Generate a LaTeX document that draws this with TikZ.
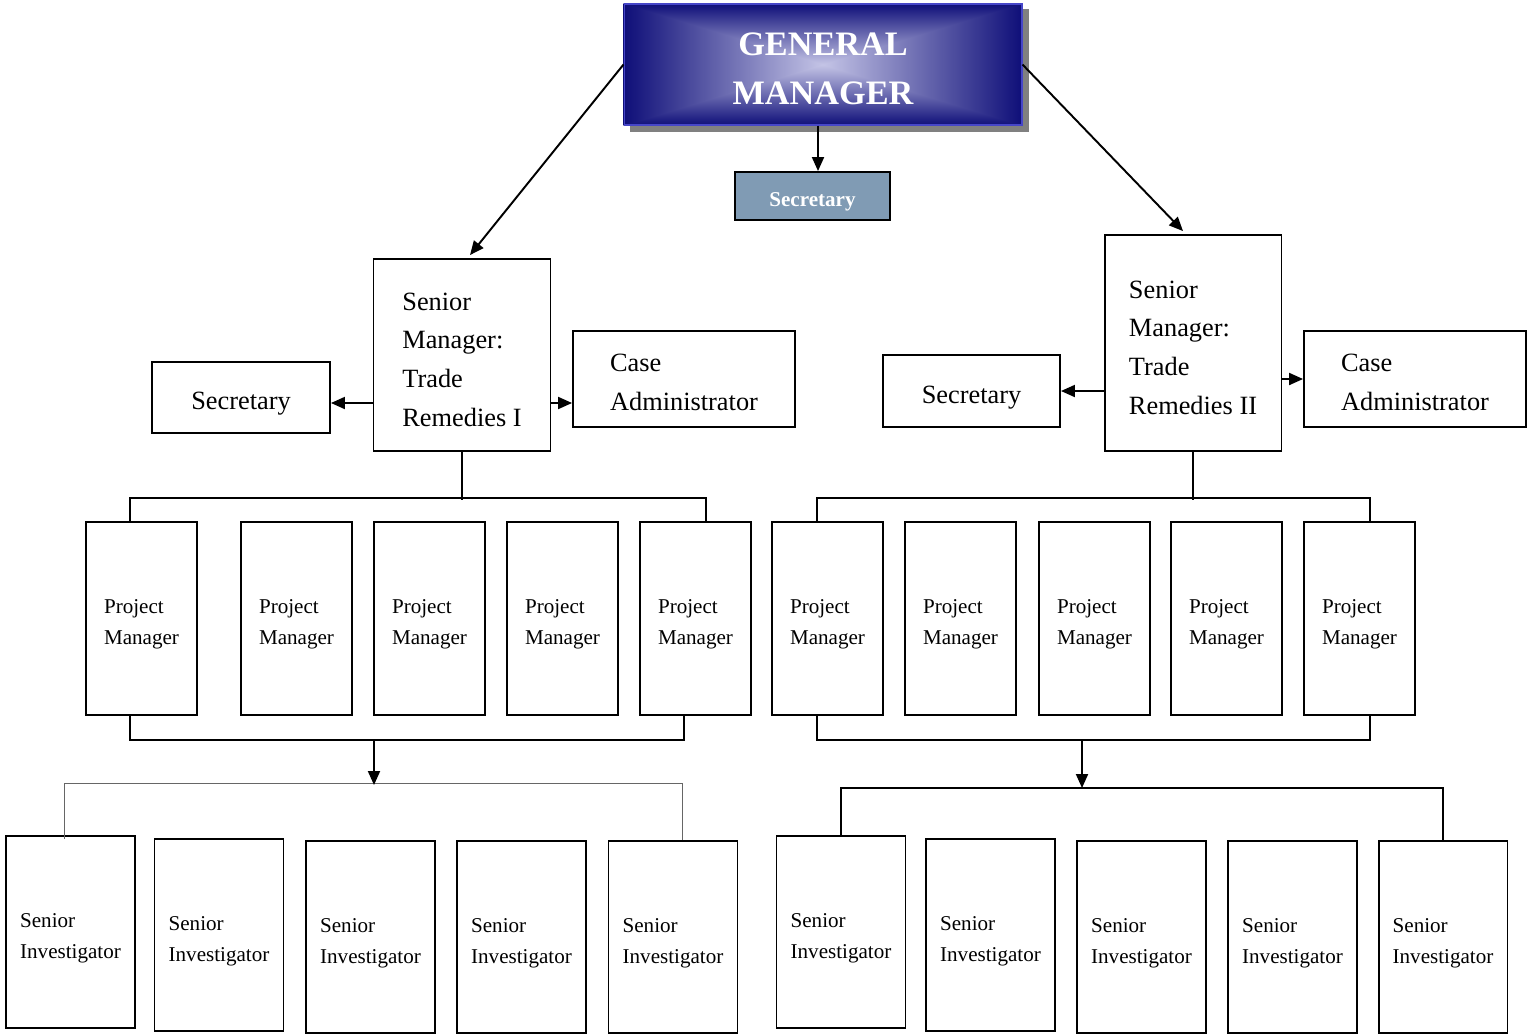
\documentclass[tikz,border=0pt]{standalone}
\usepackage{fontspec}
\setmainfont{Liberation Serif}
\usepackage{tikz}
\usetikzlibrary{positioning, arrows.meta, backgrounds}
\definecolor{gmdark}{RGB}{14,14,120}
\definecolor{gmlight}{RGB}{196,196,230}
\definecolor{gmedge}{RGB}{70,70,200}
\definecolor{secfill}{RGB}{128,155,180}

\begin{document}
\begin{tikzpicture}[x=0.02cm, y=-0.02cm,
  lift/.style={execute at begin node={\rule{0pt}{#1}}},
  box/.style={draw, line width=1.1pt, align=left, inner sep=0pt},
  gmbox/.style={draw=gmedge, line width=0.6pt, inner sep=0pt,
                minimum width=7.96cm, minimum height=2.42cm, text=white, align=center,
                font=\fontsize{19.5}{28}\selectfont\bfseries, text height=46pt, text depth=0pt},
  sectop/.style={box, fill=secfill, text=white, align=center, lift=15pt,
                 minimum width=3.1cm, minimum height=0.96cm, font=\fontsize{12}{14}\selectfont\bfseries},
  smbox/.style={box, minimum width=3.54cm, font=\fontsize{15}{22}\selectfont, text height=81pt, text depth=0pt},
  sidebox/.style={box, font=\fontsize{15}{22}\selectfont},
  pmbox/.style={box, minimum width=2.22cm, minimum height=3.86cm, font=\fontsize{12}{17.6}\selectfont, text height=30pt, text depth=0pt},
  sibox/.style={box, minimum width=2.58cm, minimum height=3.84cm, font=\fontsize{12}{17.6}\selectfont, text height=30pt, text depth=0pt},
  link/.style={line width=1.1pt},
  arrowlink/.style={link, -{Triangle[length=0.28cm, width=0.24cm]}},
  thinlink/.style={line width=0.5pt, black!60},
]
  \useasboundingbox (0,0) rectangle (1527,1035);

  % top of the chart
  \node[gmbox] (gm) at (823,64.5) {GENERAL\\MANAGER};
  \node[sectop] (secTop) at (812.5,196) {Secretary};
  \begin{scope}[on background layer]
    \fill[black!50] ([shift={(0.12cm,-0.12cm)}]gm.south west) rectangle ([shift={(0.12cm,-0.12cm)}]gm.north east);
    \shade[left color=gmdark, right color=gmdark, middle color=gmlight] (gm.south west) rectangle (gm.north east);
    \shade[top color=gmdark, bottom color=gmlight] (gm.north west) -- (gm.center) -- (gm.north east) -- cycle;
    \shade[top color=gmlight, bottom color=gmdark] (gm.south west) -- (gm.center) -- (gm.south east) -- cycle;
  \end{scope}

  % senior managers with their staff
  \node[smbox, minimum height=3.84cm] (sm1) at (462,355) {Senior\\Manager:\\Trade\\Remedies I};
  \node[sidebox, minimum width=3.56cm, minimum height=1.42cm, align=center, lift=17pt] (secL) at (241,397.5) {Secretary};
  \node[sidebox, minimum width=4.44cm, minimum height=1.92cm, text height=35.5pt, text depth=0pt] (caseL) at (684,379) {Case\\Administrator};

  \node[smbox, minimum height=4.32cm] (sm2) at (1193,343) {Senior\\Manager:\\Trade\\Remedies II};
  \node[sidebox, minimum width=3.54cm, minimum height=1.44cm, align=center, lift=17pt] (secR) at (971.5,391) {Secretary};
  \node[sidebox, minimum width=4.44cm, minimum height=1.92cm, text height=35.5pt, text depth=0pt] (caseR) at (1415,379) {Case\\Administrator};

  % project managers
  \node[pmbox] (pmL1) at (141.5,618.5) {Project\\Manager};
  \node[pmbox] (pmL2) at (296.5,618.5) {Project\\Manager};
  \node[pmbox] (pmL3) at (429.5,618.5) {Project\\Manager};
  \node[pmbox] (pmL4) at (562.5,618.5) {Project\\Manager};
  \node[pmbox] (pmL5) at (695.5,618.5) {Project\\Manager};
  \node[pmbox] (pmR1) at (827.5,618.5) {Project\\Manager};
  \node[pmbox] (pmR2) at (960.5,618.5) {Project\\Manager};
  \node[pmbox] (pmR3) at (1094.5,618.5) {Project\\Manager};
  \node[pmbox] (pmR4) at (1226.5,618.5) {Project\\Manager};
  \node[pmbox] (pmR5) at (1359.5,618.5) {Project\\Manager};

  % senior investigators
  \node[sibox] (siL1) at (70.5,932) {Senior\\Investigator};
  \node[sibox] (siL2) at (219,935) {Senior\\Investigator};
  \node[sibox] (siL3) at (370.5,937) {Senior\\Investigator};
  \node[sibox] (siL4) at (521.5,937) {Senior\\Investigator};
  \node[sibox] (siL5) at (673,937) {Senior\\Investigator};
  \node[sibox] (siR1) at (841,932) {Senior\\Investigator};
  \node[sibox] (siR2) at (990.5,935) {Senior\\Investigator};
  \node[sibox] (siR3) at (1141.5,937) {Senior\\Investigator};
  \node[sibox] (siR4) at (1292.5,937) {Senior\\Investigator};
  \node[sibox] (siR5) at (1443,937) {Senior\\Investigator};

  % arrows from the general manager
  \draw[arrowlink] ([xshift=-0.1cm]gm.south) -- ([xshift=-0.1cm]gm.south |- secTop.north);
  \draw[arrowlink] (gm.west) -- ([xshift=0.16cm, yshift=0.06cm]sm1.north);
  \draw[arrowlink] (gm.east) -- ([xshift=-0.2cm, yshift=0.06cm]sm2.north);

  % side arrows
  \coordinate (caseInL) at ([yshift=-0.48cm]caseL.west);
  \coordinate (secInL) at ([yshift=-0.11cm]secL.east);
  \draw[arrowlink] (sm1.west |- secInL) -- (secInL);
  \draw[arrowlink] (sm1.east |- caseInL) -- (caseInL);
  \draw[arrowlink] (sm2.west |- secR.east) -- (secR.east);
  \draw[arrowlink] (sm2.east |- caseR.west) -- (caseR.west);

  % brackets down to the project managers
  \draw[link] (sm1.south) -- ++(0,48);
  \draw[link] ([xshift=-0.23cm]pmL1.north) -- ++(0,-23) -| ([xshift=0.21cm]pmL5.north);
  \draw[link] (sm2.south) -- ++(0,48);
  \draw[link] ([xshift=-0.21cm]pmR1.north) -- ++(0,-23) -| ([xshift=0.21cm]pmR5.north);

  % brackets down to the senior investigators
  \coordinate (joinL) at (374,739);
  \coordinate (feedL) at (374,783);
  \draw[link] ([xshift=-0.23cm]pmL1.south) -- ++(0,24) -| ([xshift=-0.23cm]pmL5.south);
  \draw[thinlink] ([xshift=-0.13cm, yshift=-0.08cm]siL1.north) |- (feedL) -| ([xshift=0.18cm]siL5.north);
  \draw[arrowlink] (joinL) -- ([yshift=-0.04cm]feedL);

  \coordinate (joinR) at (1082,739);
  \coordinate (feedR) at (1082,788);
  \draw[link] ([xshift=-0.21cm]pmR1.south) -- ++(0,24) -| ([xshift=0.21cm]pmR5.south);
  \draw[link] (siR1.north) |- (feedR) -| (siR5.north);
  \draw[arrowlink] (joinR) -- (feedR);
\end{tikzpicture}
\end{document}
